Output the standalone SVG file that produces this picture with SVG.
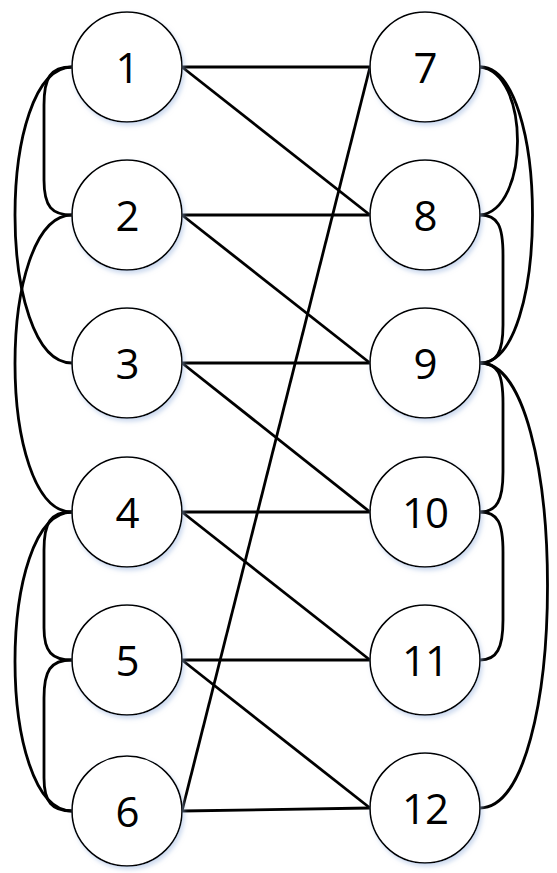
<svg xmlns="http://www.w3.org/2000/svg" width="557" height="873" viewBox="0 0 557 873">
<style>
.node circle{fill:#fff;stroke:#000;stroke-width:1.6;filter:url(#sh)}
.node text{font-family:"Open Sans","Noto Sans","Liberation Sans",sans-serif;font-size:42px;text-anchor:middle;fill:#000;letter-spacing:-1px}
#edges path,#edges line{fill:none;stroke:#000;stroke-width:2.8}
</style>
<defs>
<filter id="sh" x="-20%" y="-20%" width="150%" height="150%">
<feDropShadow dx="2" dy="3" stdDeviation="2" flood-color="#9fb8e0" flood-opacity="0.5"/>
</filter>
</defs>
<g id="edges">
<line x1="182" y1="67" x2="370" y2="67"/>
<line x1="182" y1="67" x2="370" y2="215"/>
<line x1="182" y1="215" x2="370" y2="215"/>
<line x1="182" y1="215" x2="370" y2="363"/>
<line x1="182" y1="363" x2="370" y2="363"/>
<line x1="182" y1="363" x2="370" y2="512"/>
<line x1="182" y1="512" x2="370" y2="512"/>
<line x1="182" y1="512" x2="370" y2="660"/>
<line x1="182" y1="660" x2="370" y2="660"/>
<line x1="182" y1="660" x2="370" y2="808"/>
<line x1="182" y1="811" x2="370" y2="808"/>
<line x1="182" y1="811" x2="370" y2="67"/>
<path d="M72,67 C50,67 44,78 44,105 L44,180 C44,207 52,215 72,215"/>
<path d="M72,67 C-4,67 -4,363 72,363"/>
<path d="M72,215 C-4,215 -4,512 72,512"/>
<path d="M72,512 C50,512 44,523 44,550 L44,628 C44,652 52,660 72,660"/>
<path d="M72,512 C-4,512 -4,811 72,811"/>
<path d="M72,660 C50,660 44,671 44,698 L44,778 C44,802 52,811 72,811"/>
<path d="M480,67 C530,72 530,210 480,215"/>
<path d="M480,67 C550,67 550,363 480,363"/>
<path d="M480,215 C498,215 503,226 503,255 L503,325 C503,352 497,363 480,363"/>
<path d="M480,363 C498,363 503,374 503,403 L503,472 C503,500 497,512 480,512"/>
<path d="M480,512 C498,512 503,523 503,552 L503,620 C503,648 497,660 480,660"/>
<path d="M480,363 C570,363 570,808 480,808"/>
</g>
<g id="n1" class="node"><circle cx="127" cy="67" r="55"/><text x="127" y="83">1</text></g>
<g id="n2" class="node"><circle cx="127" cy="215" r="55"/><text x="127" y="231">2</text></g>
<g id="n3" class="node"><circle cx="127" cy="363" r="55"/><text x="127" y="379">3</text></g>
<g id="n4" class="node"><circle cx="127" cy="512" r="55"/><text x="127" y="528">4</text></g>
<g id="n5" class="node"><circle cx="127" cy="660" r="55"/><text x="127" y="676">5</text></g>
<g id="n6" class="node"><circle cx="127" cy="811" r="55"/><text x="127" y="827">6</text></g>
<g id="n7" class="node"><circle cx="425" cy="67" r="55"/><text x="425" y="83">7</text></g>
<g id="n8" class="node"><circle cx="425" cy="215" r="55"/><text x="425" y="231">8</text></g>
<g id="n9" class="node"><circle cx="425" cy="363" r="55"/><text x="425" y="379">9</text></g>
<g id="n10" class="node"><circle cx="425" cy="512" r="55"/><text x="425" y="528">10</text></g>
<g id="n11" class="node"><circle cx="425" cy="660" r="55"/><text x="425" y="676">11</text></g>
<g id="n12" class="node"><circle cx="425" cy="808" r="55"/><text x="425" y="824">12</text></g>
</svg>
